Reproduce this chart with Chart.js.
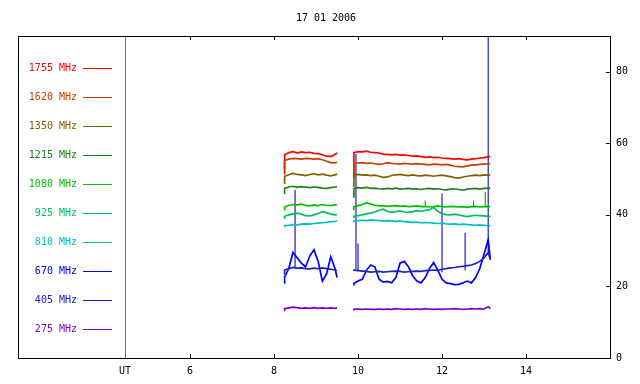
<!DOCTYPE html>
<html>
<head>
<meta charset="utf-8">
<script src="https://cdn.jsdelivr.net/npm/chart.js@4"></script>
<style>
  html, body { margin: 0; padding: 0; background: #fff; }
  #wrap { width: 640px; height: 384px; }
</style>
</head>
<body>
<div id="wrap"><canvas id="radioChart" width="640" height="384"></canvas></div>
<script>
// time axis (UT hours); the null row at 9.7 splits the two observing runs
const hours = [8.24, 8.25, 8.35, 8.45, 8.55, 8.65, 8.75, 8.85, 8.95, 9.05, 9.15, 9.25, 9.35, 9.45, 9.5,
  9.7,
  9.88, 9.9, 10.0, 10.1, 10.2, 10.3, 10.4, 10.5, 10.6, 10.7, 10.8, 10.9, 11.0, 11.1, 11.2, 11.3, 11.4,
  11.5, 11.6, 11.7, 11.8, 11.9, 12.0, 12.1, 12.2, 12.3, 12.4, 12.5, 12.6, 12.7, 12.8, 12.9, 13.0, 13.1, 13.15];

const freqLabels = ['1755 MHz', '1620 MHz', '1350 MHz', '1215 MHz', '1080 MHz',
  '925 MHz', '810 MHz', '670 MHz', '405 MHz', '275 MHz'];
const freqColors = ['#ff0000', '#c04000', '#806000', '#208020', '#00c000',
  '#00c060', '#00c0c0', '#0000ff', '#2020c0', '#8000c0'];

const mhz1755 = [51.5, 56.8, 57.4, 57.7, 57.3, 57.6, 57.4, 57.5, 57.2, 57.1, 56.8, 56.4, 56.3, 56.9, 57.3,
  null,
  50.8, 57.4, 57.7, 57.6, 57.8, 57.5, 57.4, 57.3, 57.0, 56.9, 56.8, 56.9, 56.7, 56.8, 56.6, 56.4, 56.5,
  56.3, 56.1, 56.2, 56.0, 56.1, 55.9, 55.8, 55.7, 55.6, 55.7, 55.5, 55.4, 55.6, 55.7, 55.9, 56.0, 56.2, 56.3];
const mhz1620 = [53.0, 55.2, 55.6, 55.8, 55.7, 55.6, 55.8, 55.7, 55.6, 55.7, 55.4, 55.0, 54.6, 54.5, 54.7,
  null,
  50.5, 54.4, 54.5, 54.6, 54.4, 54.5, 54.3, 54.1, 54.3, 54.6, 54.4, 54.3, 54.2, 54.4, 54.3, 54.2, 54.3,
  54.2, 54.1, 54.0, 54.2, 54.1, 54.0, 54.1, 53.9, 53.6, 53.5, 53.4, 53.7, 53.9, 54.0, 54.1, 54.2, 54.3, 54.3];
const mhz1350 = [48.8, 50.8, 51.2, 51.6, 51.3, 51.2, 51.0, 51.3, 51.5, 51.2, 51.4, 51.1, 50.9, 51.2, 51.4,
  null,
  48.0, 51.2, 51.3, 51.1, 51.2, 51.0, 51.1, 50.8, 50.5, 50.6, 51.0, 51.2, 51.3, 51.1, 51.0, 51.2, 51.0,
  50.9, 51.1, 51.0, 50.8, 51.0, 51.1, 50.9, 50.7, 50.4, 50.3, 50.6, 50.8, 51.0, 51.1, 51.0, 51.2, 51.1, 51.2];
const mhz1215 = [46.0, 47.4, 47.8, 48.0, 47.7, 47.9, 47.8, 47.6, 47.8, 47.7, 47.5, 47.4, 47.6, 47.8, 47.9,
  null,
  45.0, 47.3, 47.6, 47.5, 47.7, 47.4, 47.5, 47.3, 47.2, 47.4, 47.3, 47.5, 47.2, 47.3, 47.4, 47.2, 47.3,
  47.1, 47.3, 47.4, 47.2, 47.3, 47.1, 47.0, 47.2, 47.3, 47.1, 46.9, 47.2, 47.3, 47.4, 47.2, 47.4, 47.5, 47.4];
const mhz1080 = [41.4, 42.2, 42.7, 42.9, 42.8, 43.0, 42.7, 42.5, 42.8, 42.6, 42.9, 42.7, 42.6, 42.8, 42.9,
  null,
  41.5, 42.3, 42.6, 42.9, 43.4, 43.0, 42.7, 42.5, 42.6, 42.4, 42.5, 42.6, 42.4, 42.5, 42.3, 42.4, 42.5,
  42.3, 42.4, 42.2, 42.3, 42.5, 42.3, 42.2, 42.4, 42.3, 42.2, 42.3, 42.1, 42.3, 42.4, 42.2, 42.3, 42.4, 42.3];
const mhz925 = [39.0, 39.6, 40.0, 40.3, 40.5, 40.2, 39.8, 39.7, 40.0, 40.4, 40.9, 40.6, 40.2, 40.0, 40.1,
  null,
  39.3, 39.6, 39.8, 40.0, 40.3, 40.5, 40.8, 41.3, 41.6, 41.0, 40.7, 40.9, 41.1, 40.8, 40.7, 40.9, 41.2,
  41.0, 41.3, 41.4, 42.1, 41.0, 40.3, 40.1, 40.0, 40.2, 40.0, 39.7, 39.5, 39.7, 39.9, 39.8, 39.7, 39.6, 39.6];
const mhz810 = [36.8, 37.0, 37.1, 37.3, 37.2, 37.4, 37.5, 37.4, 37.6, 37.7, 37.8, 37.9, 38.1, 38.2, 38.3,
  null,
  38.2, 38.3, 38.4, 38.5, 38.4, 38.6, 38.5, 38.4, 38.3, 38.4, 38.3, 38.2, 38.3, 38.1, 38.0, 37.9, 38.0,
  37.8, 37.9, 37.8, 37.7, 37.6, 37.7, 37.5, 37.4, 37.5, 37.3, 37.4, 37.3, 37.2, 37.1, 37.2, 37.1, 37.0, 37.0];
const mhz670 = [21.0, 22.6, 25.0, 29.5, 28.0, 26.5, 25.5, 28.5, 30.3, 27.0, 21.5, 23.5, 28.3, 25.0, 22.5,
  null,
  20.5, 20.8, 21.5, 22.0, 24.5, 26.0, 25.5, 22.0, 21.2, 21.4, 21.0, 22.5, 26.5, 27.0, 25.5, 23.0, 21.5,
  21.0, 22.5, 25.0, 26.7, 24.5, 22.0, 21.0, 20.8, 20.5, 20.6, 21.0, 21.5, 21.0, 22.5, 25.0, 29.0, 33.0, 27.5];
const mhz405 = [23.5, 24.6, 25.0, 25.3, 25.1, 25.2, 25.0, 24.9, 25.1, 25.0, 25.2, 25.0, 24.8, 24.6, 24.4,
  null,
  24.6, 24.6, 24.4, 24.3, 24.2, 24.0, 24.1, 24.2, 24.0, 24.1, 24.2, 24.3, 24.2, 24.0, 24.1, 24.2, 24.3,
  24.2, 24.4, 24.5, 24.6, 24.5, 24.8, 25.0, 25.2, 25.3, 25.5, 25.6, 25.8, 26.0, 26.4, 27.0, 28.0, 29.5, 27.5];
const mhz275 = [13.3, 13.8, 14.0, 14.2, 14.1, 13.9, 14.0, 13.9, 14.1, 13.9, 14.0, 13.9, 14.0, 13.9, 14.0,
  null,
  13.5, 13.6, 13.7, 13.6, 13.7, 13.6, 13.6, 13.7, 13.6, 13.7, 13.6, 13.8, 13.7, 13.6, 13.7, 13.6, 13.7,
  13.6, 13.8, 13.7, 13.6, 13.7, 13.6, 13.7, 13.7, 13.8, 13.7, 13.6, 13.7, 13.8, 13.7, 13.8, 13.7, 14.3, 13.8];

// short interference spikes (hour, base value, peak value)
const spike405Hours = [8.5, 9.95, 10.0, 12.0, 12.55, 13.1];
const spike405Base = [25.0, 24.5, 24.4, 24.0, 24.5, 29.5];
const spike405Top = [47, 57, 32, 46, 35, 95];
const spike1080Hours = [11.6, 12.75, 13.03];
const spike1080Base = [42.3, 42.3, 42.3];
const spike1080Top = [44, 44, 46.5];

const xTickValues = [4.45, 6, 8, 10, 12, 14];
const xTickLabels = ['UT', '6', '8', '10', '12', '14'];
const yTickValues = [0, 20, 40, 60, 80];

const seriesValues = [mhz1755, mhz1620, mhz1350, mhz1215, mhz1080, mhz925, mhz810, mhz670, mhz405, mhz275];

function toPoints(vals) {
  return hours.map((h, i) => ({x: h, y: vals[i]}));
}
function spikePoints(hs, base, top) {
  const pts = [];
  hs.forEach((h, i) => {
    pts.push({x: h, y: base[i]}, {x: h, y: top[i]}, {x: h, y: null});
  });
  return pts;
}

const datasets = seriesValues.map((vals, i) => ({
  label: freqLabels[i],
  data: toPoints(vals),
  borderColor: freqColors[i],
  borderWidth: 1.7,
  pointRadius: 0,
  tension: 0,
  spanGaps: false
})).reverse();
datasets.push({
  label: 'spikes405', data: spikePoints(spike405Hours, spike405Base, spike405Top),
  borderColor: freqColors[8], borderWidth: 1.2, pointRadius: 0, spanGaps: false
});
datasets.push({
  label: 'spikes1080', data: spikePoints(spike1080Hours, spike1080Base, spike1080Top),
  borderColor: freqColors[4], borderWidth: 1.2, pointRadius: 0, spanGaps: false
});

const monoFont = {family: '"DejaVu Sans Mono", monospace', size: 10};

// frame, inward ticks, the UT line and the legend column
const framePlugin = {
  id: 'frame',
  afterDatasetsDraw(chart) {
    const ctx = chart.ctx;
    const a = chart.chartArea;
    const xs = chart.scales.x;
    const ys = chart.scales.y;
    ctx.save();
    // UT line
    ctx.strokeStyle = '#707070';
    ctx.lineWidth = 1;
    const ux = Math.round(xs.getPixelForValue(xTickValues[0])) + 0.5;
    ctx.beginPath();
    ctx.moveTo(ux, a.top);
    ctx.lineTo(ux, a.bottom);
    ctx.stroke();
    // small ticks pointing inside
    ctx.strokeStyle = '#000';
    ctx.beginPath();
    xTickValues.slice(1).forEach(v => {
      const px = Math.round(xs.getPixelForValue(v)) + 0.5;
      ctx.moveTo(px, a.bottom);
      ctx.lineTo(px, a.bottom - 4);
      ctx.moveTo(px, a.top);
      ctx.lineTo(px, a.top + 4);
    });
    yTickValues.forEach(v => {
      const py = Math.round(ys.getPixelForValue(v)) + 0.5;
      ctx.moveTo(a.right, py);
      ctx.lineTo(a.right - 4, py);
    });
    ctx.stroke();
    // box
    ctx.lineWidth = 1;
    ctx.strokeRect(Math.round(a.left) + 0.5, Math.round(a.top) + 0.5,
      Math.round(a.right - a.left), Math.round(a.bottom - a.top));
    // legend
    ctx.font = '10px "DejaVu Sans Mono", monospace';
    ctx.textAlign = 'right';
    ctx.textBaseline = 'middle';
    freqLabels.forEach((lab, i) => {
      const y = 68 + i * 29;
      ctx.fillStyle = freqColors[i];
      ctx.fillText(lab, 77, y);
      ctx.strokeStyle = freqColors[i];
      ctx.beginPath();
      ctx.moveTo(83, y + 0.5);
      ctx.lineTo(112, y + 0.5);
      ctx.stroke();
    });
    ctx.restore();
  }
};

new Chart(document.getElementById('radioChart'), {
  type: 'line',
  data: {datasets: datasets},
  options: {
    responsive: false,
    animation: false,
    layout: {padding: {left: 18, right: 6, top: 0, bottom: 0}},
    plugins: {
      legend: {display: false},
      tooltip: {enabled: false},
      title: {
        display: true,
        text: '17 01 2006',
        color: '#000',
        font: {family: monoFont.family, size: 10, weight: 'normal'},
        padding: {top: 12, bottom: 12}
      }
    },
    scales: {
      x: {
        type: 'linear',
        min: 1.9,
        max: 16,
        grid: {display: false, drawTicks: false},
        border: {display: false},
        afterBuildTicks: s => { s.ticks = xTickValues.map(v => ({value: v})); },
        ticks: {
          color: '#000',
          font: monoFont,
          padding: 7,
          maxRotation: 0,
          autoSkip: false,
          callback: (v, i) => xTickLabels[i]
        }
      },
      y: {
        position: 'right',
        min: 0,
        max: 90,
        grid: {display: false, drawTicks: false},
        border: {display: false},
        afterBuildTicks: s => { s.ticks = yTickValues.map(v => ({value: v})); },
        ticks: {color: '#000', font: monoFont, padding: 6}
      }
    }
  },
  plugins: [framePlugin]
});
</script>
</body>
</html>
